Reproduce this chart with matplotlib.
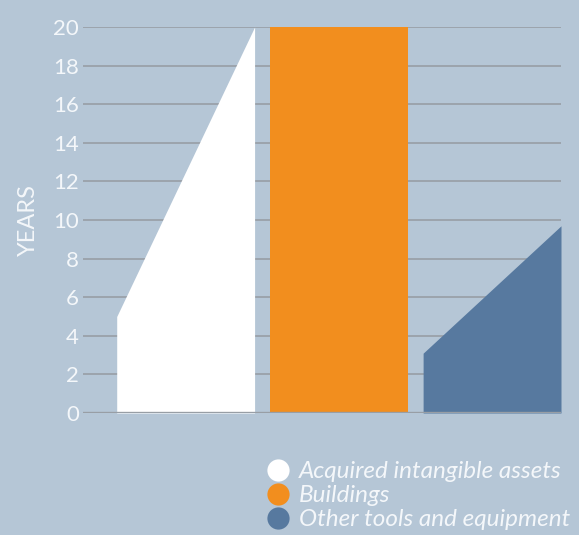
import matplotlib
matplotlib.use('Agg')
import matplotlib.pyplot as plt
from matplotlib.lines import Line2D

# Useful life (years): value at left edge and right edge of each block
categories = ['Acquired intangible assets', 'Buildings', 'Other tools and equipment']
years_start = [5, 20, 3.1]
years_end = [20, 20, 9.7]
colors = ['#ffffff', '#f28e1e', '#57799f']
yticks = list(range(0, 21, 2))

BG = '#b5c6d6'
TXT = '#f4f7fa'


def main():
    fig = plt.figure(figsize=(5.79, 5.35), dpi=100, facecolor=BG)
    ax = fig.add_axes([83 / 579, 122 / 535, 478 / 579, 386 / 535])
    ax.set_facecolor(BG)

    for y in yticks[1:]:
        ax.axhline(y, color='#989ea5', lw=1.2, zorder=1)
    ax.axhline(0, color='#989ea5', lw=2.4, zorder=3)

    width = 0.9
    for i, (s, e, c) in enumerate(zip(years_start, years_end, colors)):
        x0, x1 = i - width / 2, i + width / 2
        ax.fill_between([x0, x1], [0, 0], [s, e], color=c, lw=0, zorder=2)

    ax.set_xlim(-0.67, 2.45)
    ax.set_ylim(0, 20)
    ax.set_yticks(yticks)
    ax.set_yticklabels([str(t) for t in yticks], fontsize=16, color=TXT, family='Lato')
    ax.set_xticks([])
    ax.tick_params(axis='y', length=0, pad=3)
    for sp in ax.spines.values():
        sp.set_visible(False)

    fig.text(28 / 579, 1 - 220 / 535, 'YEARS', rotation=90, ha='center', va='center',
             fontsize=17, color=TXT, family='Lato')

    handles = [Line2D([], [], ls='none', marker='o', markersize=16, color=c, markeredgewidth=0)
               for c in colors]
    leg = fig.legend(handles, categories, loc='upper right', bbox_to_anchor=(582 / 579, 1 - 449 / 535),
                     frameon=False, handletextpad=0.35, labelspacing=0.12, borderpad=0,
                     handlelength=1.0, prop={'family': 'Lato', 'style': 'italic', 'size': 17.5})
    for t in leg.get_texts():
        t.set_color(TXT)

    fig.savefig('out.png', dpi=100, facecolor=BG)


if __name__ == '__main__':
    main()
